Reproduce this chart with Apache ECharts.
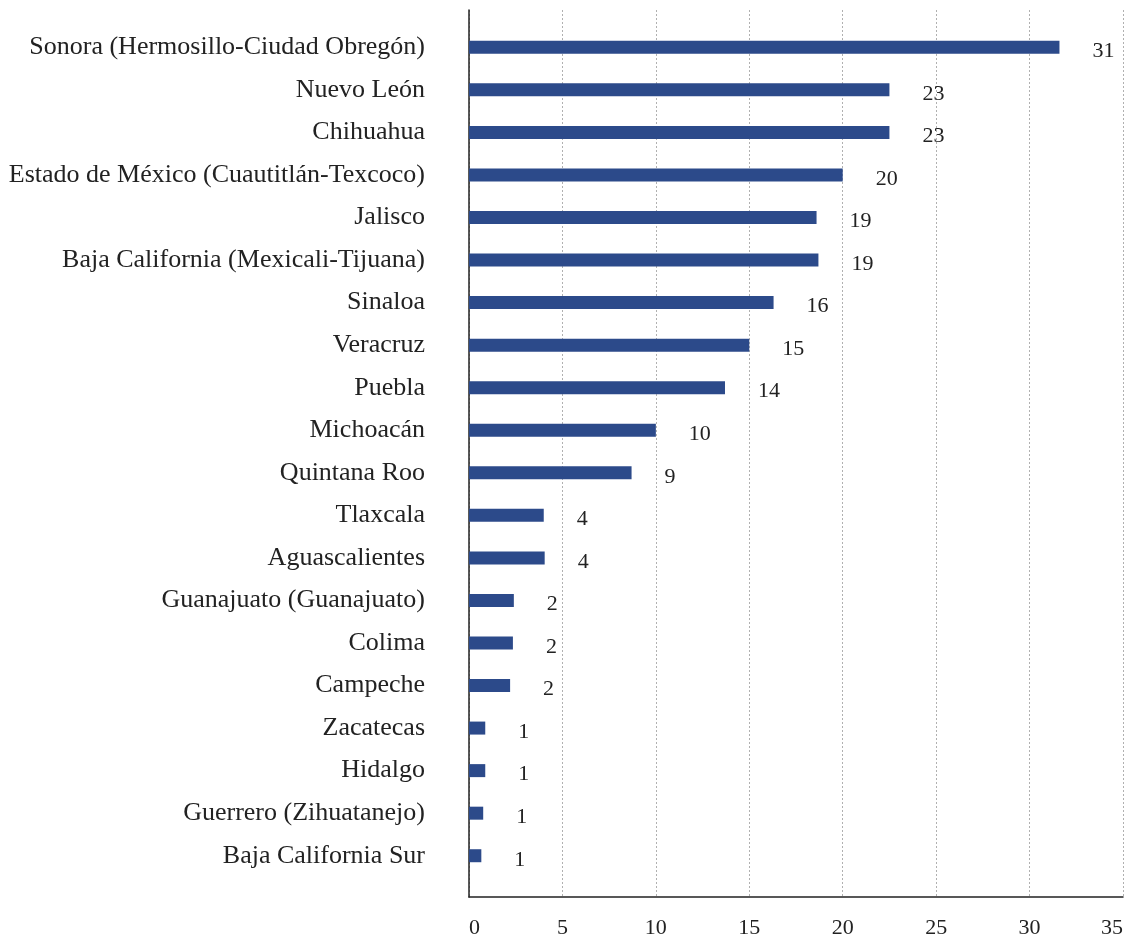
<!DOCTYPE html>
<html>
<head>
<meta charset="utf-8">
<script src="https://cdn.jsdelivr.net/npm/echarts@6/dist/echarts.min.js"></script>
<style>
  html, body { margin: 0; padding: 0; background: #fff; }
  #main { width: 1132px; height: 940px; }
</style>
</head>
<body>
<div id="main"></div>
<script>
// categorías (de arriba hacia abajo)
var categories = [
    'Sonora (Hermosillo-Ciudad Obregón)',
    'Nuevo León',
    'Chihuahua',
    'Estado de México (Cuautitlán-Texcoco)',
    'Jalisco',
    'Baja California (Mexicali-Tijuana)',
    'Sinaloa',
    'Veracruz',
    'Puebla',
    'Michoacán',
    'Quintana Roo',
    'Tlaxcala',
    'Aguascalientes',
    'Guanajuato (Guanajuato)',
    'Colima',
    'Campeche',
    'Zacatecas',
    'Hidalgo',
    'Guerrero (Zihuatanejo)',
    'Baja California Sur'
];
// longitud de cada barra
var values = [31.6, 22.5, 22.5, 20.0, 18.6, 18.7, 16.3, 15.0, 13.7, 10.0,
              8.7, 4.0, 4.05, 2.4, 2.35, 2.2, 0.87, 0.87, 0.76, 0.66];
// etiqueta mostrada
var labels = [31, 23, 23, 20, 19, 19, 16, 15, 14, 10, 9, 4, 4, 2, 2, 2, 1, 1, 1, 1];
// marcas del eje x
var xTicks = [0, 5, 10, 15, 20, 25, 30, 35];

var fontFam = '"Liberation Serif", "DejaVu Serif", serif';
var chart = echarts.init(document.getElementById('main'));

var option = {
    animation: false,
    backgroundColor: '#fff',
    grid: [
        { left: 469, right: 9, top: 10, bottom: 43, outerBoundsMode: 'none', containLabel: false },
        { left: 469, right: 9, top: 26, height: 851, outerBoundsMode: 'none', containLabel: false }
    ],
    xAxis: [
        {
            gridIndex: 0,
            type: 'value',
            min: xTicks[0],
            max: xTicks[xTicks.length - 1],
            interval: 5,
            axisLine: { show: true, lineStyle: { color: '#222', width: 1.5 } },
            axisTick: { show: false },
            axisLabel: {
                margin: 20,
                color: '#222',
                fontFamily: fontFam,
                fontSize: 22,
                alignMinLabel: 'left',
                alignMaxLabel: 'right'
            },
            splitLine: {
                show: true,
                lineStyle: { color: '#b0b0b0', type: [2, 2], width: 1 }
            }
        },
        {
            gridIndex: 1,
            type: 'value',
            min: xTicks[0],
            max: xTicks[xTicks.length - 1],
            show: false
        }
    ],
    yAxis: [
        {
            gridIndex: 0,
            type: 'value',
            axisLine: { show: true, lineStyle: { color: '#222', width: 1.5 } },
            axisTick: { show: false },
            axisLabel: { show: false },
            splitLine: { show: false }
        },
        {
            gridIndex: 1,
            type: 'category',
            inverse: true,
            data: categories,
            axisLine: { show: false },
            axisTick: { show: false },
            axisLabel: {
                margin: 44,
                color: '#222',
                fontFamily: fontFam,
                fontSize: 26
            }
        }
    ],
    series: [
        {
            type: 'bar',
            xAxisIndex: 1,
            yAxisIndex: 1,
            barWidth: 13,
            data: values,
            itemStyle: { color: '#2C4A8A' },
            label: {
                show: true,
                position: 'right',
                distance: 33,
                offset: [0, 4],
                color: '#222',
                fontFamily: fontFam,
                fontSize: 22,
                formatter: function (p) {
                    return labels[p.dataIndex];
                }
            }
        }
    ]
};

chart.setOption(option);
</script>
</body>
</html>
